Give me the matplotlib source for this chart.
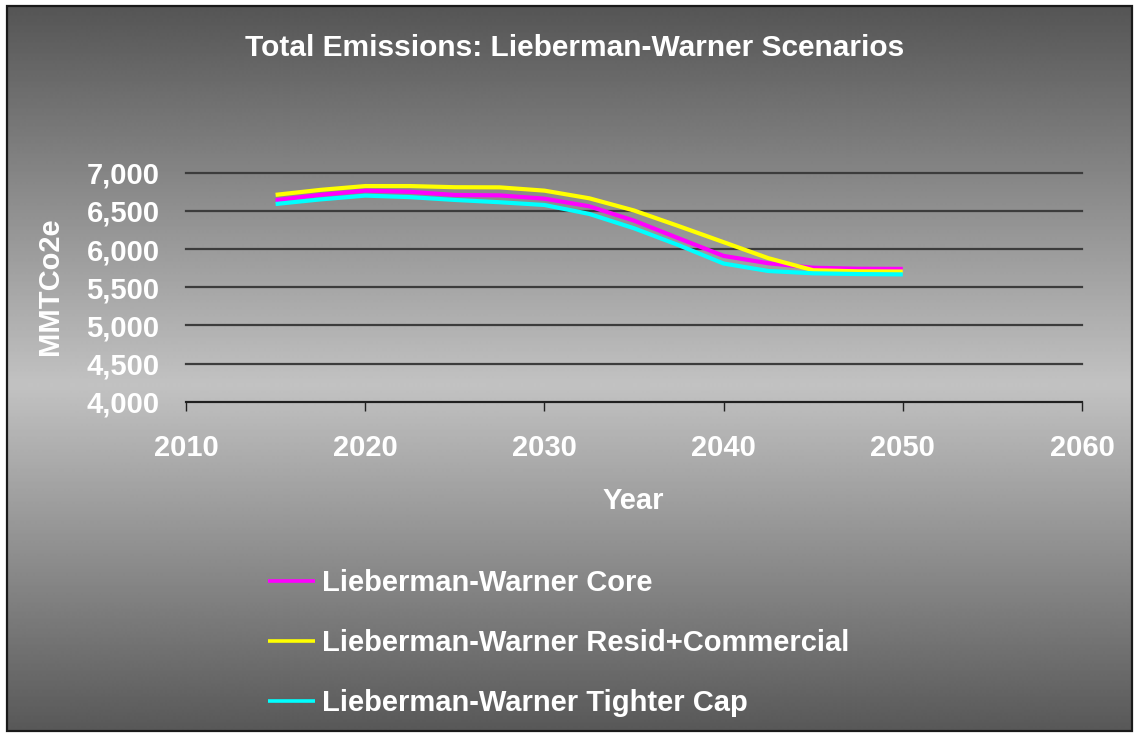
import numpy as np
import matplotlib
matplotlib.use("Agg")
import matplotlib.pyplot as plt
from matplotlib.patches import Rectangle

plt.rcParams['font.family'] = ['Liberation Sans', 'DejaVu Sans']
plt.rcParams['font.weight'] = 'bold'

# Emissions (MMTCO2e) by scenario
years = [2015, 2017.5, 2020, 2022.5, 2025, 2027.5, 2030, 2032.5, 2035,
         2037.5, 2040, 2042.5, 2045, 2047.5, 2050]
core = [6640, 6710, 6765, 6750, 6708, 6703, 6660, 6560, 6372,
        6140, 5910, 5814, 5755, 5742, 5740]
resid_commercial = [6710, 6775, 6825, 6825, 6810, 6808, 6765, 6665, 6505,
                    6300, 6090, 5880, 5722, 5708, 5705]
tighter_cap = [6590, 6650, 6700, 6680, 6643, 6613, 6577, 6460, 6272,
               6050, 5810, 5712, 5682, 5672, 5668]

series_names = ["Lieberman-Warner Core",
                "Lieberman-Warner Resid+Commercial",
                "Lieberman-Warner Tighter Cap"]
series_colors = ["#FF00FF", "#FFFF00", "#00FFFF"]

y_ticks = [4000, 4500, 5000, 5500, 6000, 6500, 7000]
x_ticks = [2010, 2020, 2030, 2040, 2050, 2060]

W, H = 1134, 734
fig = plt.figure(figsize=(W / 100, H / 100), dpi=100)
fig.patch.set_facecolor("white")

# Vertical grey gradient behind the whole chart, framed by a thin black border
bx0, by0, bx1, by1 = 7, 6, 1132, 731
bg = fig.add_axes([bx0 / W, 1 - by1 / H, (bx1 - bx0) / W, (by1 - by0) / H])
bg.set_axis_off()
rows = np.arange(by0, by1)
peak = 385
top_v, peak_v, bot_v = 0x55, 0xC2, 0x58
vals = np.where(rows <= peak,
                top_v + (peak_v - top_v) * (rows - by0) / (peak - by0),
                peak_v + (bot_v - peak_v) * (rows - peak) / (by1 - peak))
img = np.repeat((vals / 255.0)[:, None], 2, axis=1)
bg.imshow(img, cmap="gray", vmin=0, vmax=1, aspect="auto",
          extent=[0, 1, 0, 1], origin="upper")
fig.add_artist(Rectangle((bx0 / W, 1 - by1 / H), (bx1 - bx0) / W, (by1 - by0) / H,
                         transform=fig.transFigure, fill=False,
                         edgecolor="#1a1a1a", linewidth=1.6, zorder=10))

# Plot area
ax_l, ax_r, ax_t, ax_b = 186, 1082, 172.7, 401.7
ax = fig.add_axes([ax_l / W, 1 - ax_b / H, (ax_r - ax_l) / W, (ax_b - ax_t) / H])
ax.set_facecolor("none")
ax.set_xlim(2010, 2060)
ax.set_ylim(4000, 7000)

for vals_s, name, col in zip([core, resid_commercial, tighter_cap],
                             series_names, series_colors):
    ax.plot(years, vals_s, color=col, linewidth=3.0, label=name,
            solid_joinstyle="round", solid_capstyle="butt", zorder=3)

ax.set_yticks(y_ticks)
ax.set_yticklabels([f"{v:,}" for v in y_ticks])
ax.set_xticks(x_ticks)
ax.set_xticklabels([str(v) for v in x_ticks])
ax.grid(axis="y", color="#3c3c3c", linewidth=1.6, zorder=1)
ax.set_axisbelow(True)
for g in ax.get_ygridlines():
    g.set_clip_on(False)

for side in ["top", "right", "left"]:
    ax.spines[side].set_visible(False)
ax.spines["bottom"].set_color("#202020")
ax.spines["bottom"].set_linewidth(1.4)

ax.tick_params(axis="y", length=0, pad=19, labelsize=21, labelcolor="white")
ax.tick_params(axis="x", direction="out", length=6.5, width=1.0, color="#202020",
               pad=17, labelsize=21, labelcolor="white")

ax.set_xlabel("Year", fontsize=21, color="white", fontweight="bold", va="center")
ax.xaxis.set_label_coords((633 - ax_l) / (ax_r - ax_l), (ax_b - 501) / (ax_b - ax_t))
ax.set_ylabel("MMTCo2e", fontsize=21, color="white", fontweight="bold", va="center")
ax.yaxis.set_label_coords((50 - ax_l) / (ax_r - ax_l), (ax_b - 286) / (ax_b - ax_t))

fig.text(575 / W, 1 - 48 / H, "Total Emissions: Lieberman-Warner Scenarios",
         ha="center", va="center", fontsize=21.5, color="white", fontweight="bold")

handles, labels = ax.get_legend_handles_labels()
leg = fig.legend(handles, labels, loc="upper left",
                 bbox_to_anchor=(268 / W, 1 - 569 / H),
                 frameon=False, fontsize=21, labelcolor="white",
                 handlelength=1.6, handletextpad=0.25, labelspacing=1.1,
                 borderaxespad=0, borderpad=0)
for t in leg.get_texts():
    t.set_fontweight("bold")
for h in leg.legend_handles:
    h.set_linewidth(2.6)

fig.savefig("out.png", dpi=100, facecolor=fig.get_facecolor())
